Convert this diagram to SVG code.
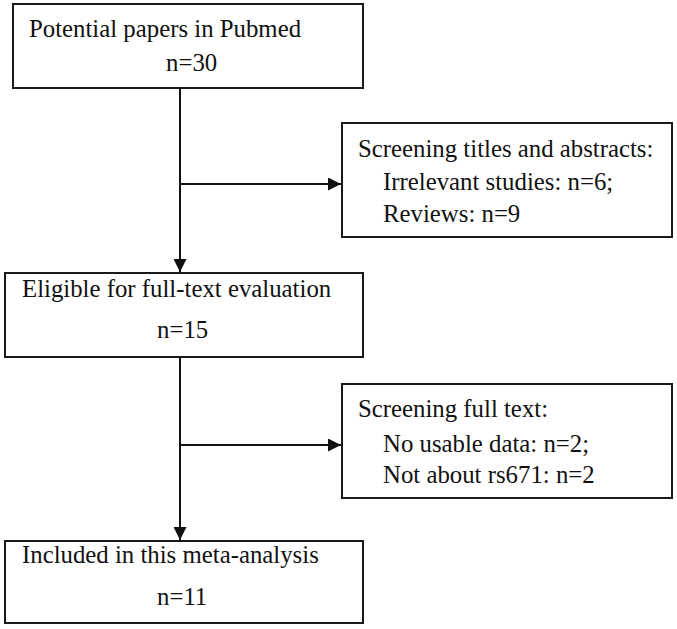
<svg xmlns="http://www.w3.org/2000/svg" width="677" height="629" viewBox="0 0 677 629">
<defs>
<style>
.box{fill:#fff;stroke:#1a1a1a;stroke-width:2}
.t{font-family:"Liberation Serif","Times New Roman",serif;font-size:24.8px;fill:#111}
.ln{stroke:#111;stroke-width:2;fill:none}
</style>
<marker id="ah" markerWidth="13" markerHeight="13" refX="13" refY="6.5" orient="auto" markerUnits="userSpaceOnUse">
<path d="M0,0 L13,6.5 L0,13 Z" fill="#111"/>
</marker>
</defs>
<rect width="677" height="629" fill="#fff"/>
<g id="connectors">
<path class="ln" d="M180,88 V272" marker-end="url(#ah)"/>
<path class="ln" d="M180,184 H341" marker-end="url(#ah)"/>
<path class="ln" d="M180,357 V540" marker-end="url(#ah)"/>
<path class="ln" d="M180,445 H341" marker-end="url(#ah)"/>
</g>
<g id="n1">
<rect class="box" x="13" y="4" width="350" height="84"/>
<text class="t" x="29" y="37">Potential papers in Pubmed</text>
<text class="t" x="166" y="71">n=30</text>
</g>
<g id="n2">
<rect class="box" x="342" y="123" width="330" height="114"/>
<text class="t" x="358" y="157">Screening titles and abstracts:</text>
<text class="t" x="383" y="190">Irrelevant studies: n=6;</text>
<text class="t" x="383" y="222">Reviews: n=9</text>
</g>
<g id="n3">
<rect class="box" x="5" y="273" width="358" height="84"/>
<text class="t" x="22" y="297">Eligible for full-text evaluation</text>
<text class="t" x="157" y="338">n=15</text>
</g>
<g id="n4">
<rect class="box" x="342" y="384" width="330" height="114"/>
<text class="t" x="358" y="417">Screening full text:</text>
<text class="t" x="383" y="452">No usable data: n=2;</text>
<text class="t" x="383" y="483">Not about rs671: n=2</text>
</g>
<g id="n5">
<rect class="box" x="5" y="541" width="358" height="82"/>
<text class="t" x="22" y="563">Included in this meta-analysis</text>
<text class="t" x="157" y="605">n=11</text>
</g>
</svg>
